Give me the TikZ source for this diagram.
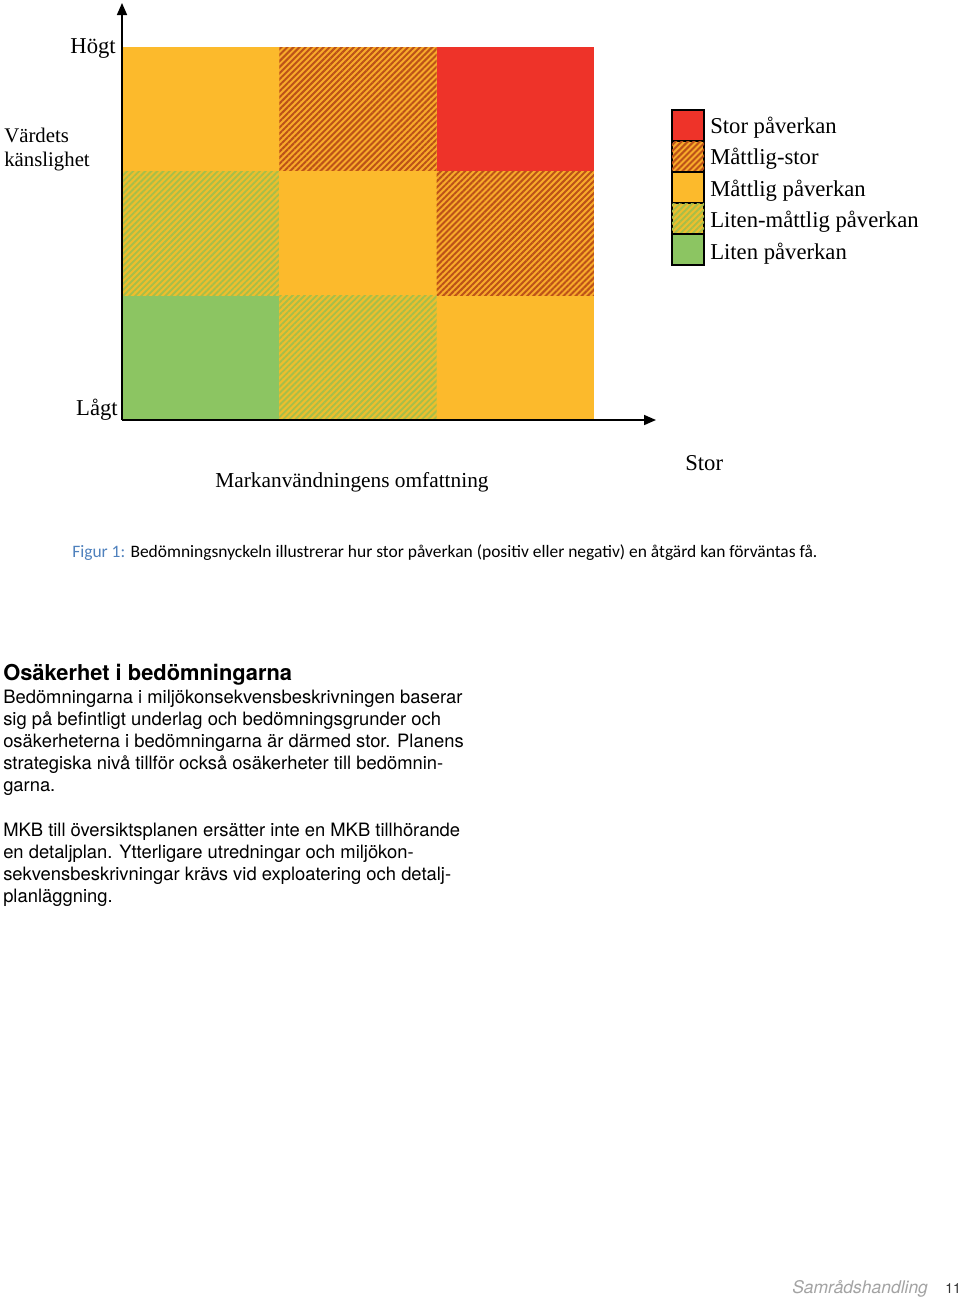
\documentclass[tikz,border=0pt]{standalone}
\usepackage{fontspec}
\setmainfont{Liberation Serif}
\newfontfamily\capfont{Carlito}
\newfontfamily\bodyfont{TeX Gyre Heros}
\usetikzlibrary{arrows.meta,patterns.meta}
\definecolor{impred}{HTML}{EE3329}
\definecolor{imporange}{HTML}{FCBA2C}
\definecolor{impgreen}{HTML}{8CC562}
\definecolor{hatchbg}{HTML}{F8AA2A}
\definecolor{hatchbrown}{HTML}{BC5218}
\definecolor{ygbg}{HTML}{EDBE2E}
\definecolor{ygline}{HTML}{A8BE48}
\definecolor{capblue}{HTML}{4F81BD}
\definecolor{footgrey}{HTML}{A3A3A3}

\begin{document}
\begin{tikzpicture}[x=0.75pt,y=-0.75pt,
 cell/.style={inner sep=0pt,minimum width=118pt,minimum height=93.25pt},
 large/.style={fill=impred},
 moderate/.style={fill=imporange},
 small/.style={fill=impgreen},
 modlarge/.style={fill=hatchbg,postaction={pattern={Lines[angle=45,distance=3.2pt,line width=1.5pt]},pattern color=hatchbrown}},
 smallmod/.style={fill=ygbg,postaction={pattern={Lines[angle=45,distance=3.2pt,line width=1.4pt]},pattern color=ygline}},
 legbox/.style={draw,line width=1.3pt,inner sep=0pt,minimum width=24pt,minimum height=23.25pt},
 axis/.style={line width=1.2pt,-{Triangle[length=9pt,width=7.5pt]}},
 lab/.style={inner sep=0pt,font=\fontsize{17}{20}\selectfont}]
\useasboundingbox (0,0) rectangle (960,1300);
\fill[white] (0,0) rectangle (960,1300);
% matrix cells
\foreach \c/\r/\k in {0/0/moderate,1/0/modlarge,2/0/large,
  0/1/smallmod,1/1/moderate,2/1/modlarge,
  0/2/small,1/2/smallmod,2/2/moderate}
  \node[cell,\k] (c\c\r) at ({122+157.33*(\c+.5)},{47+124.33*(\r+.5)}) {};
% axes
\coordinate (o) at (122,420);
\coordinate (ytop) at (122,3);
\coordinate (xend) at (656,420);
\draw[axis] (o) -- (ytop);
\draw[axis] (o) -- (xend);
\node[lab,anchor=base east] (hi) at (116,53) {Högt};
\node[lab,anchor=base east] (lo) at (118,415) {Lågt};
\node[lab,anchor=base west,align=left,font=\fontsize{15.6}{18}\selectfont] (sens) at (4,166) {Värdets\\känslighet};
\node[lab,anchor=base west] (big) at (685,470) {Stor};
\node[lab,anchor=base,font=\fontsize{16}{20}\selectfont] (ext) at (352,487) {Markanvändningens omfattning};
% legend
\foreach \k/\t [count=\i from 0] in {large/Stor påverkan,modlarge/Måttlig-stor,
  moderate/Måttlig påverkan,smallmod/Liten-måttlig påverkan,small/Liten påverkan}{
  \node[legbox,\k] (key\i) at (688,{125.5+31*\i}) {};
  \node[lab,anchor=base west] (keyt\i) at (710,{133+31.5*\i}) {\t};
}
% caption
\node[inner sep=0pt,anchor=base west,font=\capfont\fontsize{13.1}{15}\selectfont] (cap) at (72,557)
 {\textcolor{capblue}{Figur 1:} Bedömningsnyckeln illustrerar hur stor påverkan (positiv eller negativ) en åtgärd kan förväntas få.};
% text column
\node[inner sep=0pt,anchor=base west,font=\bodyfont\bfseries\fontsize{16.4}{20}\selectfont] (head) at (3,680) {Osäkerhet i bedömningarna};
\node[inner sep=0pt,anchor=north west,align=left,font=\bodyfont\fontsize{13.8}{16.5}\selectfont] (par1) at (3,690)
 {Bedömningarna i miljökonsekvensbeskrivningen baserar\\
  sig på befintligt underlag och bedömningsgrunder och\\
  osäkerheterna i bedömningarna är därmed stor. Planens\\
  strategiska nivå tillför också osäkerheter till bedömnin-\\
  garna.};
\node[inner sep=0pt,anchor=north west,align=left,font=\bodyfont\fontsize{13.8}{16.5}\selectfont] (par2) at (3,823)
 {MKB till översiktsplanen ersätter inte en MKB tillhörande\\
  en detaljplan. Ytterligare utredningar och miljökon-\\
  sekvensbeskrivningar krävs vid exploatering och detalj-\\
  planläggning.};
% footer
\node[inner sep=0pt,anchor=base west,text=footgrey,font=\bodyfont\itshape\fontsize{13.1}{15}\selectfont] (foot) at (792,1293) {Samrådshandling};
\node[inner sep=0pt,anchor=base west,text=black!80,font=\bodyfont\fontsize{10.5}{12}\selectfont] (pg) at (945,1293) {11};
\end{tikzpicture}
\end{document}
